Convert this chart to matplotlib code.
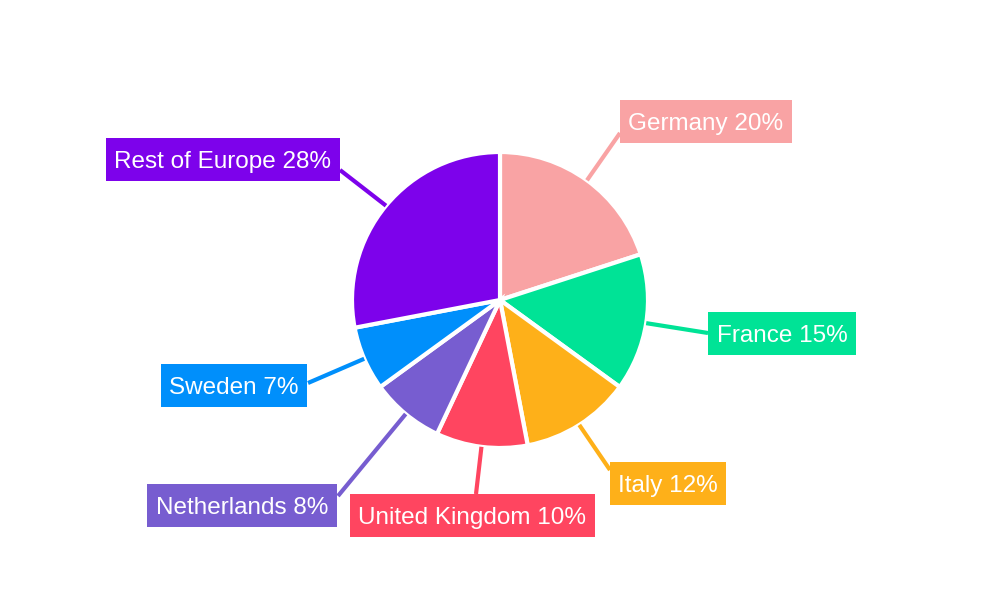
import matplotlib
matplotlib.use("Agg")
import matplotlib.pyplot as plt
from matplotlib.patches import Rectangle
import numpy as np

categories = ["Germany", "France", "Italy", "United Kingdom", "Netherlands", "Sweden", "Rest of Europe"]
values = [20, 15, 12, 10, 8, 7, 28]
colors = ["#F9A3A4", "#00E396", "#FEB019", "#FF4560", "#775DD0", "#008FFB", "#7D02EB"]

# label layout (pixel coords, y from top): box centre and leader end point
label_centers = [(706, 121.5), (782, 333.5), (668, 483.5), (472, 515.5), (242, 505.5), (234, 385.5), (223, 159.5)]
line_ends = [(620, 133), (708, 333), (610, 470), (476, 494), (338, 496), (308, 383), (340, 170)]

plt.rcParams['font.family'] = ['Liberation Sans', 'DejaVu Sans']
fig = plt.figure(figsize=(10, 6), dpi=100)
ax = fig.add_axes([0, 0, 1, 1])

cx, cy, r = 500, 300, 148
ax.pie(values, colors=colors, startangle=90, counterclock=False, center=(cx, 600 - cy),
       radius=r, wedgeprops=dict(edgecolor='white', linewidth=3), frame=True)
ax.set_xlim(0, 1000)
ax.set_ylim(0, 600)
ax.set_aspect('equal')
ax.axis('off')

renderer = fig.canvas.get_renderer()
fs = 17.5
cap = 0.716 * fs * 100 / 72
box_h = 43
pad_x = 8.5

total = sum(values)
cum = 0
for cat, v, col, (tx, ty), (ex, ey) in zip(categories, values, colors, label_centers, line_ends):
    mid = 90 - 360 * (cum + v / 2) / total
    cum += v
    sx = cx + r * np.cos(np.radians(mid))
    sy = (600 - cy) + r * np.sin(np.radians(mid))
    ax.plot([sx, ex], [sy, 600 - ey], color=col, lw=3, solid_capstyle='butt', zorder=1)
    t = ax.text(tx, 600 - ty - cap / 2, f"{cat} {v}%", color='white', fontsize=fs,
                ha='center', va='baseline', zorder=4)
    w = t.get_window_extent(renderer=renderer).width
    ax.add_patch(Rectangle((tx - w / 2 - pad_x, 600 - ty - box_h / 2), w + 2 * pad_x, box_h,
                           fc=col, ec='none', zorder=3))

fig.savefig("out.png", dpi=100, facecolor='white')
